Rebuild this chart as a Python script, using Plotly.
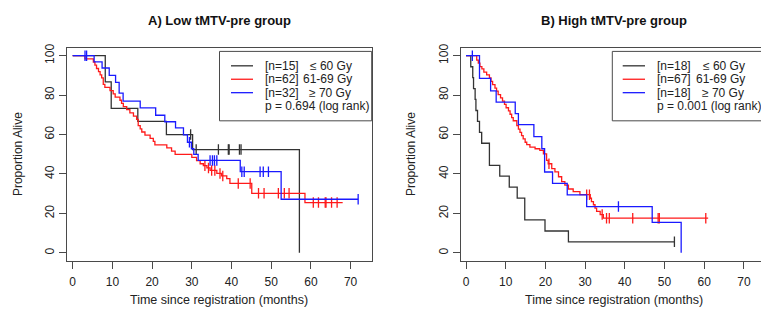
import plotly.graph_objects as go

W, H = 761, 320

# ---------------- data: panel A (Low tMTV-pre group) ----------------
A_le60_t = [0, 8.2, 9.7, 16.4, 23.6, 30.2, 57.1]
A_le60_s = [100, 86.7, 73.3, 66.7, 60.0, 52.4, 0]
A_le60_end = 57.1
A_le60_cens = [29.7, 31.1, 36.7, 39.2, 39.4, 42.0, 42.4]

A_6169_t = [0, 3.1, 5.2, 5.6, 6.0, 6.5, 6.9, 7.3, 7.7, 8.1, 9.4, 10.2, 10.7, 11.9, 12.3,
            12.75, 13.6, 14.4, 15.3, 16.1, 16.5, 17.0, 17.4, 18.2, 19.5, 20.3, 20.7, 23.7,
            24.9, 25.8, 30.0, 31.2, 32.1, 32.9, 33.8, 34.6, 36.3, 37.5, 38.8, 39.6, 45.1, 58.5]
A_6169_s = [100, 98.4, 96.8, 95.2, 93.5, 91.9, 90.3, 88.7, 85.5, 83.9, 82.3, 80.6, 79.0, 77.4, 75.8,
            74.2, 72.6, 71.0, 69.4, 67.7, 64.5, 62.9, 61.3, 59.7, 58.1, 56.5, 54.8, 53.2,
            51.6, 50.0, 48.4, 46.8, 45.2, 44.2, 43.1, 41.8, 40.3, 39.0, 37.7, 35.2, 30.2, 25.5]
A_6169_end = 68.0
A_6169_cens = [33.3, 34.2, 35.0, 35.8, 37.1, 37.8, 41.7, 44.7, 46.8, 48.2, 51.8, 53.3, 54.5,
               60.6, 61.9, 63.6, 63.8, 65.2, 66.6]

A_ge70_t = [0, 5.4, 7.4, 9.2, 10.8, 11.7, 12.7, 17.0, 20.9, 23.2, 25.9, 27.9, 28.9, 29.9,
            30.5, 31.6, 42.2, 52.5]
A_ge70_s = [100, 96.9, 93.75, 90.0, 86.5, 81.0, 77.0, 73.5, 69.8, 66.5, 63.4, 59.8, 56.1, 52.8,
            50.0, 46.9, 41.2, 27.2]
A_ge70_end = 71.9
A_ge70_cens = [3.1, 3.5, 29.4, 34.6, 35.2, 35.7, 36.3, 42.6, 43.2, 47.2, 48.0, 49.3, 71.9]

# ---------------- data: panel B (High tMTV-pre group) ----------------
B_le60_t = [0, 1.2, 1.7, 1.9, 2.3, 2.5, 2.9, 3.4, 3.95, 5.9, 8.5, 10.9, 12.9, 14.8, 19.9, 25.8]
B_le60_s = [100, 94.4, 88.9, 83.3, 77.8, 72.2, 66.7, 61.1, 55.6, 44.4, 38.9, 33.3, 27.8, 16.7, 11.1, 5.6]
B_le60_end = 52.5
B_le60_cens = [52.5]

B_6169_t = [0, 2.7, 3.1, 3.5, 4.0, 4.5, 5.2, 5.9, 6.3, 6.7, 7.3, 7.7, 8.1, 8.7, 9.2, 9.7, 10.1,
            10.7, 11.1, 11.5, 11.9, 12.8, 13.2, 13.6, 14.0, 14.4, 14.9, 15.3, 16.1, 17.4, 18.6,
            19.5, 20.3, 20.7, 21.6, 22.4, 23.3, 24.1, 24.9, 25.8, 27.0, 28.7, 31.3, 31.6, 32.1,
            32.5, 32.9, 33.8, 34.6]
B_6169_s = [100, 97.8, 96.2, 94.5, 93.3, 91.7, 90.3, 88.7, 87.0, 85.3, 83.6, 82.0, 80.3, 78.6,
            77.0, 75.3, 73.6, 72.0, 70.3, 68.6, 67.0, 64.5, 62.8, 61.1, 59.5, 57.8, 56.1, 54.9,
            53.6, 52.8, 52.0, 50.2, 46.9, 45.2, 42.7, 41.1, 38.6, 36.1, 34.4, 32.4, 31.1, 29.5,
            27.7, 26.0, 24.4, 22.7, 21.0, 19.4, 17.6]
B_6169_end = 61.0
B_6169_cens = [20.9, 30.4, 31.1, 34.3, 35.4, 36.1, 42.0, 48.4, 48.7, 60.4]

B_ge70_t = [0, 3.4, 6.2, 7.6, 12.4, 13.2, 17.1, 19.1, 19.8, 21.8, 25.5, 30.4, 46.9, 54.2]
B_ge70_s = [100, 88.5, 82.2, 76.5, 70.6, 65.0, 59.0, 52.8, 41.0, 35.2, 29.4, 23.5, 15.5, 0]
B_ge70_end = 54.2
B_ge70_cens = [1.6, 38.4]

# legend texts
A_legend_n = ["[n=15]", "[n=62]", "[n=32]"]
B_legend_n = ["[n=18]", "[n=67]", "[n=18]"]
dose_labels = ["\u2264 60 Gy", "61-69 Gy", "\u2265 70 Gy"]
A_pval = "p = 0.694 (log rank)"
B_pval = "p = 0.001 (log rank)"
titles = ["A) Low tMTV-pre group", "B) High tMTV-pre group"]
x_title = "Time since registration (months)"
y_title = "Proportion Alive"
x_ticks = [0, 10, 20, 30, 40, 50, 60, 70]
y_ticks = [0, 20, 40, 60, 80, 100]

COLORS = ["#333333", "#ff1a1a", "#1a1aff"]
AX = "#4a4a4a"
FONT = "Liberation Sans, Arial, sans-serif"


def px(x):
    return x / W


def py(y):
    return 1 - y / H


def s_at(ts, ss, t):
    v = ss[0]
    for ti, si in zip(ts, ss):
        if ti <= t:
            v = si
    return v


fig = go.Figure()


def add_km(t, s, end, cens, color, xa, ya):
    xs = list(t) + ([end] if end > t[-1] else [])
    ys = list(s) + ([s[-1]] if end > t[-1] else [])
    fig.add_trace(go.Scatter(x=xs, y=ys, mode="lines", line=dict(color=color, width=1.3, shape="hv"),
                             xaxis=xa, yaxis=ya, showlegend=False, hoverinfo="skip"))
    fig.add_trace(go.Scatter(x=cens, y=[s_at(t, s, c) for c in cens], mode="markers",
                             marker=dict(symbol="line-ns", size=7.5, line=dict(color=color, width=1.3)),
                             xaxis=xa, yaxis=ya, showlegend=False, hoverinfo="skip"))


add_km(A_le60_t, A_le60_s, A_le60_end, A_le60_cens, COLORS[0], "x", "y")
add_km(A_6169_t, A_6169_s, A_6169_end, A_6169_cens, COLORS[1], "x", "y")
add_km(A_ge70_t, A_ge70_s, A_ge70_end, A_ge70_cens, COLORS[2], "x", "y")
add_km(B_le60_t, B_le60_s, B_le60_end, B_le60_cens, COLORS[0], "x2", "y2")
add_km(B_6169_t, B_6169_s, B_6169_end, B_6169_cens, COLORS[1], "x2", "y2")
add_km(B_ge70_t, B_ge70_s, B_ge70_end, B_ge70_cens, COLORS[2], "x2", "y2")

ydom = [py(260), py(44.7)]
common_x = dict(tickvals=x_ticks, ticks="outside", ticklen=7, tickwidth=1, tickcolor=AX,
                showline=True, mirror=True, linecolor=AX, linewidth=1, showgrid=False,
                zeroline=False, ticklabelstandoff=3,
                tickfont=dict(family=FONT, size=12, color="#222"), fixedrange=True)
common_y = dict(tickvals=y_ticks, ticks="outside", ticklen=7, tickwidth=1, tickcolor=AX,
                showline=True, linecolor=AX, linewidth=1, showgrid=False, zeroline=False,
                tickangle=-90, range=[-4.0, 103.83], domain=ydom,
                tickfont=dict(family=FONT, size=12, color="#222"), fixedrange=True)

fig.update_layout(
    width=W, height=H, margin=dict(l=0, r=0, t=0, b=0),
    paper_bgcolor="white", plot_bgcolor="white", showlegend=False,
    xaxis=dict(domain=[px(67), px(371.7)], range=[-1.436, 75.31], anchor="y", **common_x),
    yaxis=dict(anchor="x", mirror=True, **common_y),
    xaxis2=dict(domain=[px(460.7), 1.0], range=[-1.335, 74.31], anchor="y2", **common_x),
    yaxis2=dict(anchor="x2", mirror=False, **common_y),
)

ann = []
shapes = []
centers = [219.4, 613.5]
for i, ttl in enumerate(titles):
    ann.append(dict(text="<b>%s</b>" % ttl, x=px(centers[i]), y=py(17), xref="paper", yref="paper",
                    showarrow=False, xanchor="center", yanchor="middle",
                    font=dict(family=FONT, size=13, color="#111")))
    ann.append(dict(text=x_title, x=px(centers[i]), y=py(300), xref="paper", yref="paper",
                    showarrow=False, xanchor="center", yanchor="middle",
                    font=dict(family=FONT, size=12.5, color="#222")))
ytx = [18, 411]
for xpos in ytx:
    ann.append(dict(text=y_title, x=px(xpos), y=py(152), xref="paper", yref="paper",
                    showarrow=False, xanchor="center", yanchor="middle", textangle=-90,
                    font=dict(family=FONT, size=12, color="#222")))

# legends
legs = [
    dict(box=(219.5, 48, 371.7, 118.3), l0=231, l1=253, tx=262.7, dx=[307.5, 300.5, 306.5],
         n=A_legend_n, p=A_pval),
    dict(box=(612.3, 48, 790, 118.3), l0=622.7, l1=645, tx=655, dx=[700.5, 693.5, 699.5],
         n=B_legend_n, p=B_pval),
]
rows = [62.6, 76.2, 89.8, 103.6]
for lg in legs:
    x0, y0, x1, y1 = lg["box"]
    shapes.append(dict(type="rect", xref="paper", yref="paper", x0=px(x0), x1=px(x1),
                       y0=py(y0), y1=py(y1), line=dict(color=AX, width=1), fillcolor="white",
                       layer="above"))
    for k in range(3):
        shapes.append(dict(type="line", xref="paper", yref="paper", x0=px(lg["l0"]), x1=px(lg["l1"]),
                           y0=py(rows[k]), y1=py(rows[k]), line=dict(color=COLORS[k], width=1.3),
                           layer="above"))
        ann.append(dict(text=lg["n"][k], x=px(lg["tx"]), y=py(rows[k]), xref="paper", yref="paper",
                        showarrow=False, xanchor="left", yanchor="middle",
                        font=dict(family=FONT, size=12, color="#222")))
        ann.append(dict(text=dose_labels[k], x=px(lg["dx"][k]), y=py(rows[k]), xref="paper",
                        yref="paper", showarrow=False, xanchor="left", yanchor="middle",
                        font=dict(family=FONT, size=12, color="#222")))
    ann.append(dict(text=lg["p"], x=px(lg["tx"]), y=py(rows[3]), xref="paper", yref="paper",
                    showarrow=False, xanchor="left", yanchor="middle",
                    font=dict(family=FONT, size=12, color="#222")))

fig.update_layout(annotations=ann, shapes=shapes)
fig.write_html("out.html", config={"displayModeBar": False, "staticPlot": True},
               post_script="document.body.style.margin='0';document.body.style.overflow='hidden';")
